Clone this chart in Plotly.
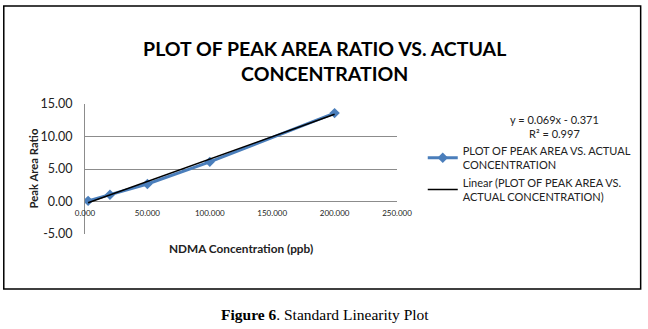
import plotly.graph_objects as go

# Data
conc = [2.5, 20, 50, 100, 200]
ratio = [0.1, 1.05, 2.7, 6.1, 13.6]
trend_slope = 0.069
trend_intercept = -0.371
x_ticks = [0, 50, 100, 150, 200, 250]
x_ticklabels = ["0.000", "50.000", "100.000", "150.000", "200.000", "250.000"]
y_ticks = [-5, 0, 5, 10, 15]
y_ticklabels = ["-5.00", "0.00", "5.00", "10.00", "15.00"]

series_name = "PLOT OF PEAK AREA VS. ACTUAL<br>CONCENTRATION"
trend_name = "Linear (PLOT OF PEAK AREA VS.<br>ACTUAL CONCENTRATION)"

trend_x = [min(conc), max(conc)]
trend_y = [trend_slope * v + trend_intercept for v in trend_x]

FONT = "Lato"

fig = go.Figure()
fig.add_trace(go.Scatter(
    x=conc, y=ratio, mode="lines+markers", name=series_name,
    line=dict(color="#4A7EBB", width=3),
    marker=dict(symbol="diamond", size=8, color="#4A7EBB"),
))
fig.add_trace(go.Scatter(
    x=trend_x, y=trend_y, mode="lines", name=trend_name,
    line=dict(color="black", width=1.5),
))

L, R, T, B = 85, 400, 104, 234
W, H = 648, 329
pw, ph = R - L, B - T

def px(x):
    return (x - L) / pw

def py(y):
    return (B - y) / ph

fig.update_layout(
    width=W, height=H,
    margin=dict(l=L, r=W - R, t=T, b=H - B),
    paper_bgcolor="white", plot_bgcolor="white",
    showlegend=True,
    font=dict(family=FONT, color="#222222"),
    xaxis=dict(
        range=[0, 250], tickvals=x_ticks, ticktext=x_ticklabels,
        showgrid=False, zeroline=False, showline=False,
        anchor="free", position=py(201), ticks="",
        ticklabelstandoff=6,
        tickfont=dict(size=8, family=FONT, color="#222222"),
    ),
    yaxis=dict(
        range=[-5, 15], tickvals=y_ticks, ticktext=y_ticklabels,
        showgrid=True, gridcolor="#8c8c8c", gridwidth=1,
        zeroline=False, showline=True, linecolor="#8c8c8c", linewidth=1,
        ticks="", ticklabelstandoff=9,
        tickfont=dict(size=12.5, family=FONT, color="#222222"),
    ),
    legend=dict(
        x=px(426), y=py(137), xanchor="left", yanchor="top",
        font=dict(size=11, family=FONT, color="#222222"),
        bgcolor="rgba(0,0,0,0)",
    ),
    title=dict(
        text="<b>PLOT OF PEAK AREA RATIO VS. ACTUAL<br>CONCENTRATION</b>",
        xref="paper", x=px(327), xanchor="center",
        y=1 - 56 / H, yanchor="middle",
        font=dict(size=19.5, family=FONT, color="black"),
    ),
)

fig.add_shape(type="rect", xref="paper", yref="paper",
              x0=px(3), x1=px(646), y0=py(289), y1=py(6),
              line=dict(color="black", width=1.5), layer="below")

fig.add_annotation(text="<b>NDMA Concentration (ppb)</b>", xref="paper", yref="paper",
                   x=px(243), y=py(248), xanchor="center", yanchor="middle", showarrow=False,
                   font=dict(size=11.8, family=FONT, color="#222222"))
fig.add_annotation(text="<b>Peak Area Ratio</b>", xref="paper", yref="paper",
                   x=px(32), y=py(169), xanchor="center", yanchor="middle",
                   showarrow=False, textangle=-90,
                   font=dict(size=11.3, family=FONT, color="#222222"))
fig.add_annotation(text=f"y = {trend_slope}x - {abs(trend_intercept)}<br>R² = 0.997",
                   xref="paper", yref="paper", x=px(559), y=py(126),
                   xanchor="center", yanchor="middle", showarrow=False,
                   align="center", font=dict(size=11, family=FONT, color="#222222"))
fig.add_annotation(text="<b>Figure 6</b>. Standard Linearity Plot", xref="paper", yref="paper",
                   x=px(327), y=py(314), xanchor="center", yanchor="middle", showarrow=False,
                   font=dict(size=15.5, family="Liberation Serif", color="black"))

fig.write_html("out.html")
